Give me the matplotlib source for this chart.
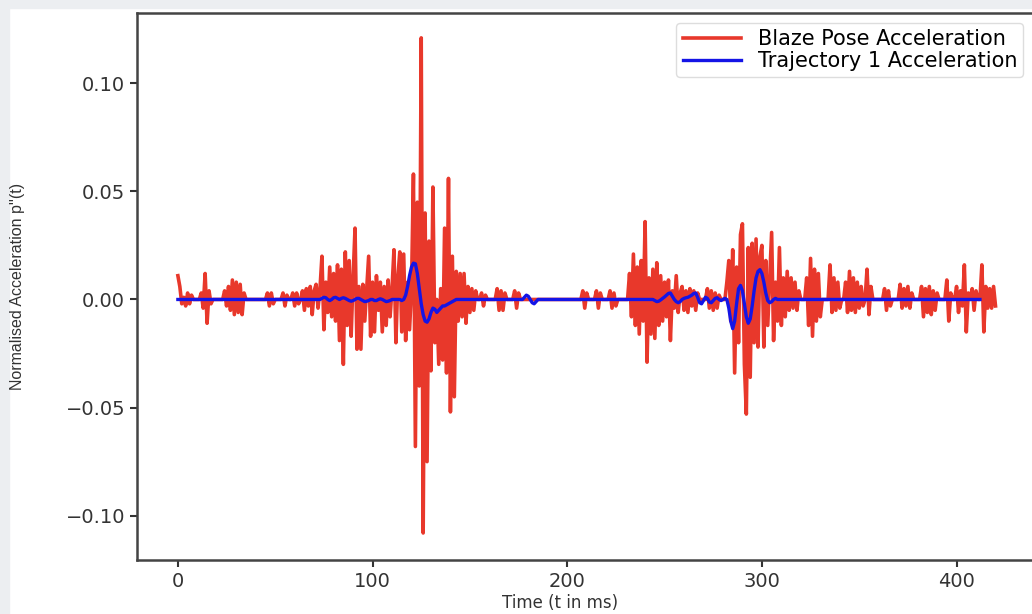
#!/usr/bin/env python3

import matplotlib
matplotlib.use("Agg")
import matplotlib.pyplot as plt
import numpy as np
from matplotlib.patches import Rectangle

# Blaze pose acceleration: mostly flat, with bursts (start sample, values)
n_red = 421
red_bursts = [
    (0, [0.011, 0.006, -0.002, 0.001, -0.003, 0.003, -0.002, 0.002]),
    (12, [0.003, -0.004, 0.012, -0.011, 0.004, -0.002]),
    (24, [0.004, -0.003, 0.006, -0.005, 0.009, -0.007, 0.008, -0.006, 0.007, -0.007, 0.003]),
    (46, [0.003, -0.003, 0.003, -0.002]),
    (54, [0.003, -0.003, 0.002]),
    (59, [0.003, -0.003, 0.003, -0.002]),
    (64, [0.004, -0.005, 0.005, -0.003, 0.006, -0.007, 0.004]),
    (71, [0.007, -0.004, 0.005, 0.020, -0.014, 0.008, -0.006, 0.015, -0.008, 0.012,
          -0.010, 0.016, -0.019, 0.014, -0.030, 0.022, -0.012, 0.018, -0.017, 0.010,
          0.033, -0.023, 0.006, -0.023, 0.007, -0.010, 0.005, 0.020, -0.017, 0.008,
          -0.015, 0.011, -0.005, 0.008, -0.015, 0.006, -0.012, 0.009, -0.008, 0.005,
          0.023, -0.020, 0.010, 0.022, -0.015, 0.021, -0.019, 0.008, -0.014, 0.005,
          0.058, -0.068, 0.045, -0.040, 0.121, -0.108, 0.040, -0.075, 0.027, -0.033,
          0.052, -0.020, 0.000, -0.030, 0.005, -0.028, 0.033, -0.034, 0.056, -0.052,
          0.020, -0.045, 0.013, -0.010, 0.012, -0.008, 0.012, -0.011, 0.006, -0.006,
          0.005, -0.005, 0.004, 0.000]),
    (156, [0.003, -0.003, 0.002]),
    (164, [0.005, -0.005, 0.004, -0.005, 0.003]),
    (173, [0.004, -0.004, 0.003]),
    (208, [0.004, -0.004, 0.003]),
    (215, [0.004, -0.004, 0.003]),
    (222, [0.004, -0.004, 0.003, -0.003]),
    (232, [0.012, -0.008, 0.021, -0.012, 0.015, -0.016, 0.018, -0.010, 0.036, -0.029,
           0.010, -0.016, 0.014, -0.018, 0.017, -0.012, 0.011, -0.010, 0.008, -0.008,
           0.009, -0.019, 0.004, -0.004, 0.011, -0.006, 0.003]),
    (259, [0.006, -0.005, 0.004, -0.006, 0.005, -0.003, 0.004, -0.005, 0.003]),
    (272, [0.005, -0.004, 0.004, -0.005, 0.003, -0.004, 0.002]),
    (282, [0.008, 0.018, -0.010, 0.023, -0.034, 0.015, -0.020, 0.030, 0.035, -0.030,
           -0.053, 0.024, -0.036, 0.026, -0.020, 0.028, -0.022, 0.020, 0.025, -0.022,
           0.018, -0.012, 0.010, 0.031, -0.019, 0.008, -0.010, 0.024, -0.012, 0.010,
           -0.008, 0.013, -0.005, 0.010, -0.004, 0.008, -0.005, 0.004, 0.000]),
    (323, [0.010, -0.012, 0.019, -0.017, 0.014, -0.010, 0.012, -0.008]),
    (335, [0.016, -0.006, 0.010, -0.005, 0.008, -0.004]),
    (343, [0.008, -0.006, 0.013, -0.005, 0.010, -0.006, 0.008, -0.004, 0.006, -0.003]),
    (354, [0.014, -0.007, 0.006]),
    (363, [0.005, -0.005, 0.004, -0.003]),
    (371, [0.007, -0.004, 0.005, -0.003, 0.006, -0.004, 0.003]),
    (382, [0.006, -0.008, 0.005, -0.006, 0.006, -0.007, 0.004, -0.005, 0.003]),
    (395, [0.009, -0.010, 0.003]),
    (400, [0.006, -0.006, 0.004, -0.003, 0.016, -0.015, 0.003]),
    (408, [0.005, -0.005, 0.004]),
    (413, [0.016, -0.015, 0.006, -0.004, 0.005, -0.004, 0.006, -0.003]),
]

# Trajectory 1 acceleration: smooth, flat except a few features
n_blue = 413
blue_segments = [
    (74, [0.0005, 0.001, 0.0008, 0.0, -0.0005, 0.0, 0.0008, 0.001, 0.0005, 0.0,
          0.0005, 0.0008, 0.0005, 0.0, -0.0005, -0.0008, -0.0005, 0.0, 0.0005, 0.0005,
          0.0, -0.0005, -0.001, -0.0008, -0.0005, 0.0, 0.0, -0.0005, -0.0005, 0.0,
          0.0003, 0.0, -0.0005, -0.001, -0.0008, -0.0005, 0.0, 0.0, 0.0]),
    (114, [0.0, -0.0005, 0.0, 0.002, 0.006, 0.011, 0.015, 0.0168, 0.0165, 0.012,
           0.005, -0.002, -0.007, -0.010, -0.0105, -0.009, -0.006, -0.004, -0.0045, -0.006,
           -0.005, -0.004, -0.003, -0.003, -0.0025, -0.002, -0.0015, -0.001, -0.0005, 0.0]),
    (178, [0.001, 0.002, 0.0015, 0.0, -0.0015, -0.002, -0.001, 0.0]),
    (244, [0.0, -0.0005, -0.001, -0.0008, -0.0002, 0.0005, 0.0012, 0.002, 0.0028, 0.003,
           0.0015, 0.0, -0.001, -0.0015, -0.001, 0.0, 0.0005, 0.0008, 0.001, 0.0015,
           0.002, 0.0028, 0.003, 0.001, -0.0015, -0.002, -0.0005, 0.001, 0.0005, -0.0012,
           -0.0015, -0.0005, 0.0005, 0.0008, 0.0, -0.0005, 0.0, 0.0005, 0.0, -0.004,
           -0.010, -0.0135, -0.010, -0.002, 0.005, 0.0065, 0.004, -0.002, -0.008, -0.011,
           -0.009, -0.003, 0.004, 0.010, 0.013, 0.0138, 0.012, 0.008, 0.003, -0.0005,
           -0.0015, -0.001, 0.0, 0.0005, 0.0]),
]

red = np.zeros(n_red)
for start, vals in red_bursts:
    red[start:start + len(vals)] = vals
blue = np.zeros(n_blue)
for start, vals in blue_segments:
    blue[start:start + len(vals)] = vals
t_red = np.arange(n_red)
t_blue = np.arange(n_blue)

fig = plt.figure(figsize=(10.32, 6.14), dpi=100)
fig.patches.append(Rectangle((0, 1 - 8/614), 1, 8/614, transform=fig.transFigure,
                             color="#eceef1", zorder=-1))
fig.patches.append(Rectangle((0, 0), 9/1032, 1, transform=fig.transFigure,
                             color="#eceef1", zorder=-1))
ax = fig.add_axes([137/1032, 54/614, 0.8715, 547/614])

ax.plot(t_red, red, color="#e8382b", lw=2.6, label="Blaze Pose Acceleration")
ax.plot(t_blue, blue, color="#1414e6", lw=2.4, label="Trajectory 1 Acceleration")

ax.set_xlim(-21, 441)
ax.set_ylim(-0.1205, 0.1325)
ax.set_xticks([0, 100, 200, 300, 400])
ax.set_yticks([-0.10, -0.05, 0.00, 0.05, 0.10])
ax.tick_params(labelsize=14, colors="#333333", width=1.5, length=5)
for s in ax.spines.values():
    s.set_color("#444444")
    s.set_linewidth(1.8)

ax.set_ylabel("Normalised Acceleration p''(t)", family="Liberation Sans", fontsize=11.5,
              color="#333333")
ax.yaxis.set_label_coords(-0.124, 0.5)
ax.set_xlabel("Time (t in ms)", fontsize=12, color="#333333")
ax.xaxis.set_label_coords(0.47, -0.062)
ax.legend(loc="upper right", bbox_to_anchor=(0.997, 1.001), fontsize=15,
          handlelength=2.8, borderpad=0.3, labelspacing=0.1, framealpha=1,
          edgecolor="#dddddd")

plt.savefig("out.png", dpi=100)
